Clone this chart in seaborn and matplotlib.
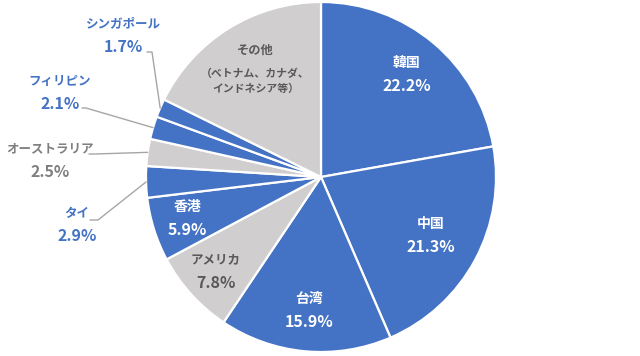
import numpy as np
import seaborn as sns
import matplotlib.pyplot as plt

# share of visitors by country/region (%), clockwise from 12 o'clock
names = ['韓国', '中国', '台湾', 'アメリカ', '香港', 'タイ',
         'オーストラリア', 'フィリピン', 'シンガポール', 'その他']
shares = [22.2, 21.3, 15.9, 7.8, 5.9, 2.9, 2.5, 2.1, 1.7, 17.7]
pct_labels = ['22.2%', '21.3%', '15.9%', '7.8%', '5.9%', '2.9%',
              '2.5%', '2.1%', '1.7%', '17.7%']
other_note = '（ベトナム、カナダ、\nインドネシア等）'

BLUE = '#4472C4'
GRAY = '#D0CECE'
kinds = ['b', 'b', 'b', 'g', 'b', 'b', 'g', 'b', 'b', 'g']
colors = [BLUE if k == 'b' else GRAY for k in kinds]

W, H = 640, 356
def py(y):  # pixel row -> data y
    return H - y

sns.set_style('white')
plt.rcParams['font.family'] = ['Noto Sans CJK JP', 'DejaVu Sans']

fig = plt.figure(figsize=(W / 100, H / 100), dpi=100)
ax = fig.add_axes([0, 0, 1, 1])

cx, cy, R = 321, py(177), 175
wedges, _ = ax.pie(shares, colors=colors, startangle=90, counterclock=False,
                   center=(cx, cy), radius=R,
                   wedgeprops=dict(edgecolor='white', linewidth=1.6))
ax.set_xlim(0, W)
ax.set_ylim(0, H)
ax.set_aspect('equal')
ax.axis('off')

def mid(w):
    return np.deg2rad((w.theta1 + w.theta2) / 2)

def name_size(s):
    # kana in the original font are narrow, kanji are full width
    return 10 if all('\u4e00' <= ch <= '\u9fff' for ch in s) else 9

PCT_FS = 11.5

# labels inside the big slices (fraction of radius)
inside = {0: 0.76, 1: 0.71, 2: 0.77, 3: 0.81, 4: 0.80}
for i, d in inside.items():
    a = mid(wedges[i])
    x, y = cx + d * R * np.cos(a), cy + d * R * np.sin(a)
    c = 'white' if kinds[i] == 'b' else '#595959'
    ax.text(x, y + 12, names[i], ha='center', va='center', color=c,
            fontsize=name_size(names[i]), fontweight='bold')
    ax.text(x, y - 11, pct_labels[i], ha='center', va='center', color=c,
            fontsize=PCT_FS, fontweight='bold')

# "other" slice, three lines
a = mid(wedges[9])
x, y = cx + 0.71 * R * np.cos(a), cy + 0.71 * R * np.sin(a)
ax.text(x, y + 21, names[9], ha='center', va='center', color='#595959',
        fontsize=8.8, fontweight='bold')
ax.text(x, y - 10, other_note, ha='center', va='center', color='#595959',
        fontsize=7.8, fontweight='bold', linespacing=1.6)

# small slices: outside labels with leader lines
outside = {  # idx: (label centre px, leader start px, elbow px)
    8: ((123, 36), (147, 52), (152, 52)),
    7: ((60, 93), (82, 108), (86, 108)),
    6: ((50, 161), (89, 154), (95, 154)),
    5: ((77, 225), (90, 220), (98, 220)),
}
for i, (lab, s, e) in outside.items():
    c = BLUE if kinds[i] == 'b' else '#7F7F7F'
    a = mid(wedges[i])
    ex, ey = cx + R * np.cos(a), cy + R * np.sin(a)
    ax.plot([s[0], e[0], ex], [py(s[1]), py(e[1]), ey], color='#A6A6A6', lw=1)
    ax.text(lab[0], py(lab[1]) + 12, names[i], ha='center', va='center',
            color=c, fontsize=name_size(names[i]), fontweight='bold')
    ax.text(lab[0], py(lab[1]) - 11, pct_labels[i], ha='center', va='center',
            color=c, fontsize=PCT_FS, fontweight='bold')

fig.savefig('out.png', dpi=100)
